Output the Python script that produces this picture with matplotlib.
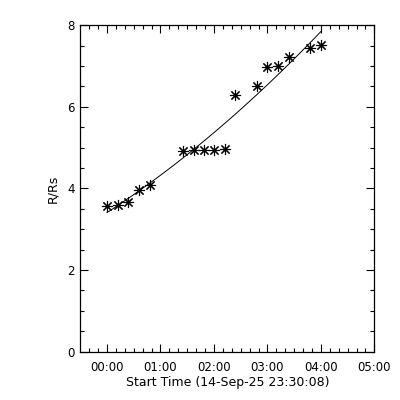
import numpy as np
import matplotlib
matplotlib.use("Agg")
import matplotlib.pyplot as plt
from matplotlib.ticker import MultipleLocator, FixedLocator

# hours after 00:00 (start time 14-Sep-25 23:30:08)
t_hours = [0.0, 0.2, 0.4, 0.6, 0.8, 1.43, 1.62, 1.81, 2.0, 2.2,
           2.39, 2.8, 2.99, 3.2, 3.4, 3.8, 4.0]
r_rs = [3.58, 3.60, 3.66, 3.97, 4.08, 4.92, 4.94, 4.94, 4.94, 4.97,
        6.29, 6.50, 6.98, 7.00, 7.23, 7.43, 7.51]
tick_hours = [0, 1, 2, 3, 4, 5]
tick_labels = ["00:00", "01:00", "02:00", "03:00", "04:00", "05:00"]
start_offset = -(29 + 52 / 60) / 60  # 23:30:08 relative to 00:00

t = np.array(t_hours)
r = np.array(r_rs)

# quadratic fit through the points
coef = np.polyfit(t, r, 2)
tf = np.linspace(t.min(), t.max(), 60)
rf = np.polyval(coef, tf)

fig = plt.figure(figsize=(4, 4), dpi=100)
ax = fig.add_axes([0.201, 0.121, 0.735, 0.816])

ax.plot(tf, rf, color="black", linewidth=0.7)
ax.plot(t, r, linestyle="none", marker=(8, 2, 0), markersize=8,
        markeredgewidth=0.8, color="black")

ax.set_xlim(start_offset, 5.0)
ax.set_ylim(0, 8)

ax.xaxis.set_major_locator(FixedLocator(tick_hours))
ax.set_xticklabels(tick_labels)
ax.xaxis.set_minor_locator(MultipleLocator(1 / 6))
ax.yaxis.set_major_locator(MultipleLocator(2))
ax.yaxis.set_minor_locator(MultipleLocator(0.5))

ax.tick_params(which="both", direction="in", top=True, right=True,
               width=0.8, labelsize=8.5, colors="black")
ax.tick_params(which="major", length=6)
ax.tick_params(which="minor", length=3)
ax.tick_params(axis="x", pad=7)
ax.tick_params(axis="y", pad=4)

for s in ax.spines.values():
    s.set_linewidth(0.9)

ax.set_xlabel("Start Time (14-Sep-25 23:30:08)", fontsize=9, labelpad=1)
ax.set_ylabel("R/Rs", fontsize=9, labelpad=6)

fig.savefig("out.png", dpi=100, facecolor="white")
